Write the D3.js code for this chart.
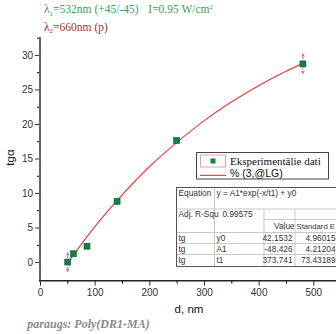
<!DOCTYPE html>
<html>
<head>
<meta charset="utf-8">
<script src="https://cdn.jsdelivr.net/npm/d3@7"></script>
<style>
  body { margin: 0; background: #fff; }
  svg { display: block; }
  .tick text { font-family: "Liberation Sans", Arial, sans-serif; font-size: 10px; fill: #333; }
</style>
</head>
<body>
<div id="chart"></div>
<script>
// measured points
const thickness = [50.7, 61, 86, 141, 250, 481];
const tgAlpha = [0.0, 1.2, 2.3, 8.8, 17.6, 28.7];
// error bars only on first and last point
const errIndex = [0, 5];
const errSize = [1.4, 1.5];

// fitted curve
const fitX = [50, 100, 150, 200, 250, 300, 350, 400, 450, 481];
const fitY = [-0.2, 5.1, 9.7, 13.8, 17.3, 20.45, 23.17, 25.55, 27.63, 28.78];

const xTicks = [0, 100, 200, 300, 400, 500];
const yTicks = [0, 5, 10, 15, 20, 25, 30];

const tableRows = [
    ["tg", "y0", "42.1532", "4.96015"],
    ["tg", "A1", "-48.426", "4.21204"],
    ["tg", "t1", "373.741", "73.43189"]
];

const width = 336, height = 334;
const svg = d3.select("#chart").append("svg")
    .attr("width", width)
    .attr("height", height);

const x = d3.scaleLinear().domain([0, 541.5]).range([40, 336]);
const y = d3.scaleLinear().domain([-2.7, 32.6]).range([280.7, 37]);

// axes
const yAxis = d3.axisLeft(y).tickValues(yTicks).tickSize(5).tickPadding(2);
const yMinor = d3.axisLeft(y).tickValues(d3.range(2.5, 32.6, 5)).tickSize(3).tickFormat("");
const xAxis = d3.axisBottom(x).tickValues(xTicks).tickSize(5).tickPadding(2);
const xMinor = d3.axisBottom(x).tickValues(d3.range(50, 541, 100)).tickSize(3).tickFormat("");

let gy = svg.append("g").attr("transform", "translate(40,0)").call(yAxis);
svg.append("g").attr("transform", "translate(40,0)").call(yMinor).select(".domain").remove();
gy.select(".domain").remove();
gy.selectAll(".tick line").attr("stroke", "#333");

let gx = svg.append("g").attr("transform", "translate(0,280.7)").call(xAxis);
svg.append("g").attr("transform", "translate(0,280.7)").call(xMinor).select(".domain").remove();
gx.select(".domain").remove();
gx.selectAll(".tick line").attr("stroke", "#333");
gx.selectAll(".tick text").attr("dy", "0.85em");

svg.append("line")
    .attr("x1", 40).attr("x2", 40).attr("y1", 37).attr("y2", 281.5)
    .attr("stroke", "#666").attr("stroke-width", 2);
svg.append("line")
    .attr("x1", 39).attr("x2", 336).attr("y1", 280.7).attr("y2", 280.7)
    .attr("stroke", "#222").attr("stroke-width", 1.5);

// axis titles
svg.append("text")
    .attr("x", 189).attr("y", 313)
    .attr("text-anchor", "middle")
    .style("font-family", "Liberation Sans, Arial, sans-serif")
    .style("font-size", "11.5px")
    .attr("fill", "#111")
    .text("d, nm");

svg.append("text")
    .attr("transform", "translate(14,157.5) rotate(-90)")
    .attr("text-anchor", "middle")
    .style("font-family", "Liberation Sans, Arial, sans-serif")
    .style("font-size", "11.5px")
    .attr("fill", "#111")
    .text("tgα");

// fit line
const line = d3.line()
    .x((d, i) => x(fitX[i]))
    .y((d, i) => y(fitY[i]))
    .curve(d3.curveMonotoneX);
svg.append("path")
    .datum(fitX)
    .attr("d", line)
    .attr("fill", "none")
    .attr("stroke", "#f23a40")
    .attr("stroke-width", 1.2);

// error bars
const errG = svg.append("g");
errIndex.forEach((idx, k) => {
    const cx = x(thickness[idx]);
    const yt = y(tgAlpha[idx] + errSize[k]);
    const yb = y(tgAlpha[idx] - errSize[k]);
    errG.append("line")
        .attr("x1", cx).attr("x2", cx).attr("y1", yt).attr("y2", yb)
        .attr("stroke", "#c070c8").attr("stroke-width", 1.2)
        .attr("stroke-dasharray", "2,1.5");
    errG.append("path")
        .attr("d", `M${cx - 2},${yt + 3}L${cx},${yt}L${cx + 2},${yt + 3}Z`)
        .attr("fill", "#c070c8");
    errG.append("path")
        .attr("d", `M${cx - 2},${yb - 3}L${cx},${yb}L${cx + 2},${yb - 3}Z`)
        .attr("fill", "#c070c8");
});

// points
svg.append("g").selectAll("rect")
    .data(thickness)
    .enter()
    .append("rect")
    .attr("x", (d) => x(d) - 3)
    .attr("y", (d, i) => y(tgAlpha[i]) - 3)
    .attr("width", 6)
    .attr("height", 6)
    .attr("fill", "#128045")
    .attr("stroke", "#0b5e30")
    .attr("stroke-width", 0.6);

// header lines
const head1 = svg.append("text")
    .attr("x", 44).attr("y", 13.3)
    .style("font-family", "Liberation Serif, Times New Roman, serif")
    .style("font-size", "11.5px")
    .attr("fill", "#3aa055");
head1.append("tspan").text("λ");
head1.append("tspan").attr("dy", 2.5).style("font-size", "7px").text("1");
head1.append("tspan").attr("dy", -2.5).text("=532nm (+45/-45)");
head1.append("tspan").attr("x", 148.3).text("I=0.95 W/cm");
head1.append("tspan").attr("dy", -4).style("font-size", "7px").text("2");

const head2 = svg.append("text")
    .attr("x", 44).attr("y", 30.7)
    .style("font-family", "Liberation Serif, Times New Roman, serif")
    .style("font-size", "11.5px")
    .attr("fill", "#a8302f");
head2.append("tspan").text("λ");
head2.append("tspan").attr("dy", 2.5).style("font-size", "7px").text("2");
head2.append("tspan").attr("dy", -2.5).text("=660nm (p)");

// legend
const leg = svg.append("g");
leg.append("rect")
    .attr("x", 196.5).attr("y", 152.5).attr("width", 132).attr("height", 26.5)
    .attr("fill", "#fff").attr("stroke", "#444").attr("stroke-width", 1);
leg.append("rect")
    .attr("x", 200.5).attr("y", 155).attr("width", 25).attr("height", 12)
    .attr("fill", "none").attr("stroke", "#f0a0a8").attr("stroke-width", 1);
leg.append("rect")
    .attr("x", 210.5).attr("y", 158.5).attr("width", 5).attr("height", 5)
    .attr("fill", "#128045");
leg.append("text")
    .attr("x", 230).attr("y", 165.3)
    .style("font-family", "Liberation Serif, Times New Roman, serif")
    .style("font-size", "11px")
    .attr("fill", "#111")
    .text("Eksperimentālie dati");
leg.append("line")
    .attr("x1", 200).attr("x2", 226).attr("y1", 175.3).attr("y2", 175.3)
    .attr("stroke", "#e02020").attr("stroke-width", 1);
leg.append("text")
    .attr("x", 230).attr("y", 177.3)
    .style("font-family", "Liberation Sans, Arial, sans-serif")
    .style("font-size", "10.5px")
    .attr("fill", "#111")
    .text("% (3,@LG)");

// fit table
const tbl = svg.append("g")
    .style("font-family", "Liberation Sans, Arial, sans-serif")
    .style("font-size", "8.3px")
    .attr("fill", "#333");
const tL = 176.5, tT = 187.5, tR = 345, tB = 266.5;
const c1 = 214.5, c2 = 264, c3 = 295;
const rowLines = [209, 219.5, 232.5, 243.5, 254.5];
tbl.append("rect")
    .attr("x", tL).attr("y", tT).attr("width", tR - tL).attr("height", tB - tT)
    .attr("fill", "#fff");
rowLines.forEach((ry, i) => {
    tbl.append("line")
        .attr("x1", i === 1 ? c2 : tL).attr("x2", tR)
        .attr("y1", ry).attr("y2", ry)
        .attr("stroke", "#c8c8c8").attr("stroke-width", 1);
});
tbl.append("line").attr("x1", c1).attr("x2", c1).attr("y1", tT).attr("y2", tB)
    .attr("stroke", "#c8c8c8");
[c2, c3].forEach(cx => {
    tbl.append("line").attr("x1", cx).attr("x2", cx).attr("y1", 209).attr("y2", tB)
        .attr("stroke", "#c8c8c8");
});
tbl.append("rect")
    .attr("x", tL).attr("y", tT).attr("width", tR - tL).attr("height", tB - tT)
    .attr("fill", "none").attr("stroke", "#555").attr("stroke-width", 1);

tbl.append("text").attr("x", 178.5).attr("y", 196).text("Equation");
tbl.append("text").attr("x", 216.5).attr("y", 196).text("y = A1*exp(-x/t1) + y0");
tbl.append("text").attr("x", 178.5).attr("y", 217).text("Adj. R-Squ");
tbl.append("text").attr("x", 252.5).attr("y", 217).attr("text-anchor", "end").text("0.99575");
tbl.append("text").attr("x", 274).attr("y", 229).text("Value");
tbl.append("text").attr("x", 296.5).attr("y", 229).style("font-size", "7.7px").text("Standard E");
tableRows.forEach((r, i) => {
    const by = 240.5 + i * 11;
    tbl.append("text").attr("x", 178.5).attr("y", by).text(r[0]);
    tbl.append("text").attr("x", 216.5).attr("y", by).text(r[1]);
    tbl.append("text").attr("x", 292.5).attr("y", by).attr("text-anchor", "end").text(r[2]);
    tbl.append("text").attr("x", 335.5).attr("y", by).attr("text-anchor", "end").text(r[3]);
});

// caption
svg.append("text")
    .attr("x", 27.3).attr("y", 328)
    .style("font-family", "Liberation Serif, Times New Roman, serif")
    .style("font-size", "12px")
    .style("font-style", "italic")
    .style("font-weight", "bold")
    .attr("fill", "#8a8a8a")
    .text("paraugs: Poly(DR1-MA)");
</script>
</body>
</html>
